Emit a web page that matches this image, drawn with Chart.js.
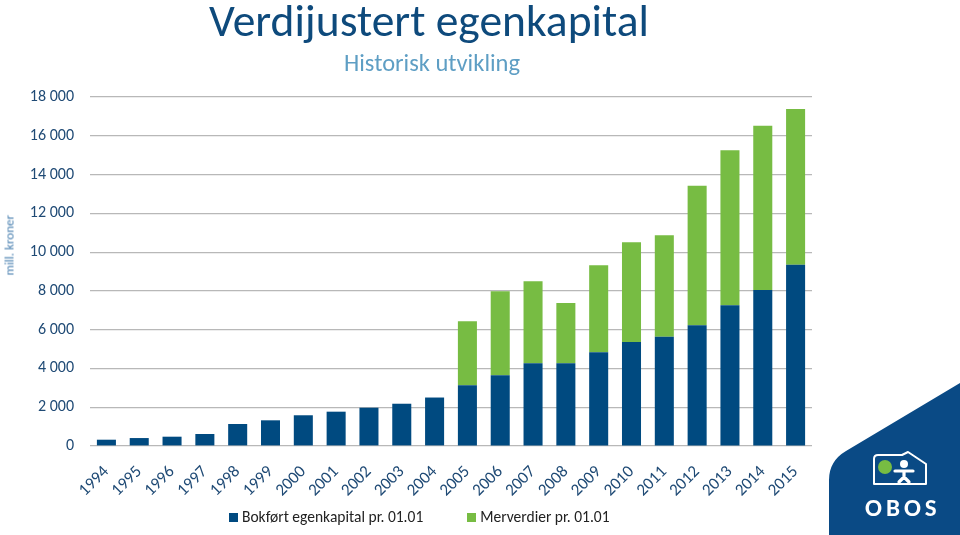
<!DOCTYPE html>
<html>
<head>
<meta charset="utf-8">
<script src="https://cdn.jsdelivr.net/npm/chart.js@4.4.1/dist/chart.umd.min.js"></script>
<style>
html,body{margin:0;padding:0;background:#fff;}
#wrap{position:relative;width:960px;height:535px;overflow:hidden;font-family:Carlito,Lato,"Open Sans",sans-serif;}
#title{position:absolute;left:0;width:858px;top:-7px;text-align:center;font-size:45.5px;color:#0e4a7c;white-space:nowrap;}
#subtitle{position:absolute;left:0;width:864px;top:48px;text-align:center;font-size:24.5px;color:#5e9ec4;white-space:nowrap;}
#ytitle{position:absolute;left:1px;top:238px;width:60px;margin-left:-22px;transform:rotate(-90deg);text-align:center;font-size:13px;color:#4a80b0;white-space:nowrap;}
#legend{position:absolute;top:507px;left:229px;font-size:15.5px;color:#222;white-space:nowrap;}
#legend span.sw{display:inline-block;width:9px;height:9px;margin-right:4px;vertical-align:0px;}
#legend span.item{margin-right:44px;}
canvas{position:absolute;left:0;top:0;}
</style>
</head>
<body>
<div id="wrap">
<canvas id="c" width="960" height="535"></canvas>
<div id="title">Verdijustert egenkapital</div>
<div id="subtitle">Historisk utvikling</div>
<div id="ytitle">mill. kroner</div>
<div id="legend"></div>
</div>
<script>
const years = ['1994','1995','1996','1997','1998','1999','2000','2001','2002','2003','2004','2005','2006','2007','2008','2009','2010','2011','2012','2013','2014','2015'];
const bokfort = [325,410,480,620,1135,1325,1585,1770,1975,2180,2500,3130,3645,4265,4265,4830,5365,5640,6225,7255,8045,9350];
const merverdier = [0,0,0,0,0,0,0,0,0,0,0,3300,4335,4230,3110,4490,5140,5225,7200,7995,8475,8030];
const yTicks = [0,2000,4000,6000,8000,10000,12000,14000,16000,18000];
const seriesNames = ['Bokført egenkapital pr. 01.01', 'Merverdier pr. 01.01'];

const FONT = 'Carlito, Lato, "Open Sans", sans-serif';
const BLUE = '#004a80';
const GREEN = '#77bc43';

const logoPlugin = {
  id: 'logo',
  afterDraw(chart) {
    const ctx = chart.ctx;
    ctx.save();
    ctx.fillStyle = '#0a4a85';
    ctx.beginPath();
    ctx.moveTo(960, 383);
    ctx.lineTo(846, 451);
    ctx.quadraticCurveTo(829, 461, 829, 480);
    ctx.lineTo(829, 535);
    ctx.lineTo(960, 535);
    ctx.closePath();
    ctx.fill();
    // house outline
    ctx.strokeStyle = '#ffffff';
    ctx.lineWidth = 2;
    ctx.lineJoin = 'round';
    ctx.beginPath();
    ctx.moveTo(874, 484);
    ctx.lineTo(874, 459);
    ctx.quadraticCurveTo(874, 455, 878, 455);
    ctx.lineTo(902, 455);
    ctx.lineTo(908, 452);
    ctx.lineTo(926, 464);
    ctx.lineTo(926, 484);
    ctx.closePath();
    ctx.stroke();
    // green dot
    ctx.fillStyle = '#77bc43';
    ctx.beginPath();
    ctx.arc(885, 467, 7, 0, Math.PI * 2);
    ctx.fill();
    // person
    ctx.fillStyle = '#ffffff';
    ctx.beginPath();
    ctx.arc(904, 464, 4, 0, Math.PI * 2);
    ctx.fill();
    ctx.strokeStyle = '#ffffff';
    ctx.lineWidth = 3.2;
    ctx.lineCap = 'round';
    ctx.beginPath();
    ctx.moveTo(895, 471); ctx.lineTo(913, 471);
    ctx.moveTo(904, 471); ctx.lineTo(904, 477);
    ctx.lineTo(899, 482);
    ctx.moveTo(904, 477); ctx.lineTo(909, 482);
    ctx.stroke();
    ctx.font = 'bold 25px ' + FONT;
    ctx.letterSpacing = '4px';
    ctx.textAlign = 'left';
    ctx.textBaseline = 'alphabetic';
    ctx.fillText('OBOS', 865, 516);
    ctx.restore();
  }
};

const chart = new Chart(document.getElementById('c'), {
  type: 'bar',
  data: {
    labels: years,
    datasets: [
      { label: seriesNames[0], data: bokfort, backgroundColor: BLUE, barPercentage: 0.58, categoryPercentage: 1 },
      { label: seriesNames[1], data: merverdier, backgroundColor: GREEN, barPercentage: 0.58, categoryPercentage: 1 }
    ]
  },
  options: {
    responsive: false,
    animation: false,
    devicePixelRatio: 1,
    layout: { padding: { left: 0, right: 148, top: 97, bottom: 34 } },
    plugins: {
      legend: { display: false },
      tooltip: { enabled: false },
      title: { display: false }
    },
    scales: {
      x: {
        stacked: true,
        grid: { display: false, drawTicks: false },
        border: { display: false },
        ticks: { font: { family: FONT, size: 17 }, color: '#1f4a75', minRotation: 45, maxRotation: 45, padding: 16, autoSkip: false },
        afterFit(s) { s.height = 55; }
      },
      y: {
        stacked: true,
        min: 0, max: 18000,
        afterBuildTicks(s) { s.ticks = yTicks.map(v => ({ value: v })); },
        grid: { color: '#b8b8b8', lineWidth: 1.2, drawTicks: false },
        border: { display: false },
        ticks: {
          font: { family: FONT, size: 16 }, color: '#1f4a75', padding: 16,
          callback: v => String(v).replace(/\B(?=(\d{3})+(?!\d))/g, ' ')
        },
        afterFit(s) { s.width = 90; }
      }
    }
  },
  plugins: [logoPlugin]
});

// HTML legend built from the datasets
const lg = document.getElementById('legend');
chart.data.datasets.forEach(ds => {
  const item = document.createElement('span');
  item.className = 'item';
  const sw = document.createElement('span');
  sw.className = 'sw';
  sw.style.background = ds.backgroundColor;
  item.appendChild(sw);
  item.appendChild(document.createTextNode(ds.label));
  lg.appendChild(item);
});
</script>
</body>
</html>
